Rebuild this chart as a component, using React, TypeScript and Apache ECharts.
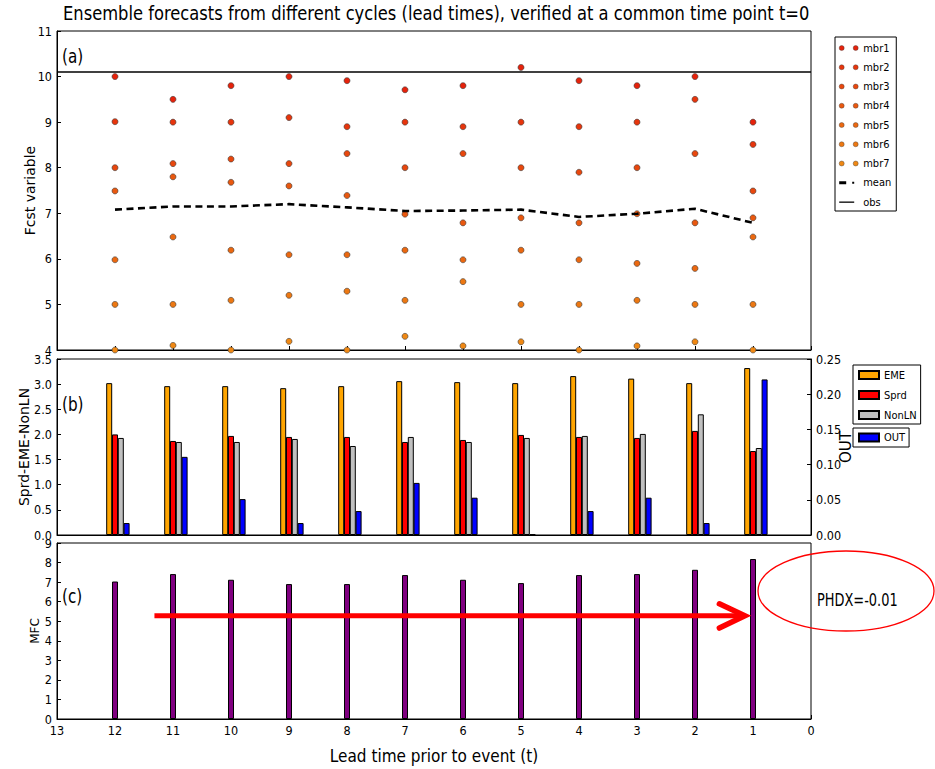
import React, { useEffect, useRef } from "react";
import * as echarts from "echarts";

// ---------- data ----------
const LEAD_TIMES = [12, 11, 10, 9, 8, 7, 6, 5, 4, 3, 2, 1];
const MEMBER_NAMES = ["mbr1", "mbr2", "mbr3", "mbr4", "mbr5", "mbr6", "mbr7"];
const MBR1 = [10.0, 9.5, 9.8, 10.0, 9.91, 9.71, 9.8, 10.2, 9.91, 9.8, 10.0, 9.0];
const MBR2 = [9.01, 9.0, 9.0, 9.1, 8.9, 9.0, 8.9, 9.0, 8.9, 9.0, 9.5, 8.51];
const MBR3 = [8.0, 8.09, 8.19, 8.09, 8.31, 8.0, 8.31, 8.0, 7.9, 8.0, 8.31, 7.49];
const MBR4 = [7.49, 7.8, 7.68, 7.6, 7.39, 6.98, 6.79, 6.9, 6.79, 6.99, 6.79, 6.9];
const MBR5 = [5.98, 6.48, 6.19, 6.09, 6.09, 6.19, 5.98, 6.19, 5.98, 5.9, 5.79, 6.48];
const MBR6 = [5.0, 5.0, 5.09, 5.2, 5.29, 5.09, 5.5, 5.0, 5.0, 5.09, 5.0, 5.0];
const MBR7 = [4.0, 4.1, 4.0, 4.19, 4.0, 4.3, 4.09, 4.18, 4.0, 4.09, 4.18, 4.0];
const MEMBERS = [MBR1, MBR2, MBR3, MBR4, MBR5, MBR6, MBR7];
const MEAN = [7.08, 7.15, 7.15, 7.2, 7.13, 7.05, 7.06, 7.08, 6.92, 6.99, 7.1, 6.79];
const OBS = 10.1;

const EME = [3.02, 2.96, 2.96, 2.92, 2.96, 3.06, 3.04, 3.02, 3.16, 3.11, 3.02, 3.32];
const SPRD = [2.0, 1.87, 1.97, 1.95, 1.95, 1.85, 1.89, 1.99, 1.95, 1.93, 2.07, 1.67];
const NONLN = [1.93, 1.85, 1.85, 1.91, 1.77, 1.95, 1.85, 1.93, 1.97, 2.01, 2.4, 1.73];
const OUT = [0.017, 0.111, 0.051, 0.017, 0.034, 0.074, 0.053, 0.001, 0.034, 0.053, 0.017, 0.221];
const MFC = [7.03, 7.41, 7.12, 6.9, 6.9, 7.36, 7.12, 6.95, 7.36, 7.41, 7.63, 8.18];

const X_MIN = 0;
const X_MAX = 13;
const ARROW_Y = 5.28;
const ARROW_FROM = 11.32;
const ARROW_TO = 1.14;
const ARROW_HEAD_X = 1.58;
const ARROW_HEAD_TOP = 5.89;
const ARROW_HEAD_BOTTOM = 4.65;
const PHDX_TEXT = "PHDX=-0.01";
const TITLE = "Ensemble forecasts from different cycles (lead times), verified at a common time point t=0";

// ---------- styles ----------
const COND = '"DejaVu Sans Condensed", "DejaVu Sans", sans-serif';
const SANS = '"DejaVu Sans", sans-serif';
const MEMBER_COLORS = ["#e6220b", "#e7350c", "#e8470d", "#e9580f", "#eb6810", "#ed7812", "#ef8814"];
const MEMBER_EDGE = "#3a3a3a";
// offsets in axis units (axis is inverted: positive = further left)
const BAR_OFFSET = { EME: 0.1, Sprd: 0, NonLN: -0.1, OUT: -0.2 };

const GRID_LEFT = 57;
const GRID_WIDTH = 754;

const TWO_DOTS =
  "path://M0,2.5a2.5,2.5 0 1,0 5,0a2.5,2.5 0 1,0 -5,0zM14,2.5a2.5,2.5 0 1,0 5,0a2.5,2.5 0 1,0 -5,0z";
const MEAN_ICON = "path://M0,0M19,5M0,1h7v3h-7zM13,1.5h2v2h-2z";
const OBS_ICON = "path://M0,0M19,5M0,2h15v1.3h-15z";

function xAxis(i: number, showLabel: boolean) {
  return {
    type: "value",
    gridIndex: i,
    min: X_MIN,
    max: X_MAX,
    interval: 1,
    inverse: true,
    axisLine: { onZero: false, lineStyle: { color: "#000", width: 1 } },
    axisTick: { inside: true, length: 4, lineStyle: { color: "#000" } },
    splitLine: { show: false },
    axisLabel: { show: showLabel, color: "#000", fontSize: 12.5, fontFamily: COND, margin: 5 },
    name: showLabel ? "Lead time prior to event (t)" : "",
    nameLocation: "middle",
    nameGap: 28,
    nameMoveOverlap: false,
    nameTextStyle: { fontSize: 17, fontFamily: COND, color: "#000" },
  };
}

function yAxisBase(extra: any) {
  return {
    type: "value",
    axisLine: { show: true, onZero: false, lineStyle: { color: "#000", width: 1 } },
    axisTick: { show: true, inside: true, length: 4, lineStyle: { color: "#000" } },
    splitLine: { show: false },
    nameLocation: "middle",
    nameRotate: 90,
    nameMoveOverlap: false,
    axisLabel: { color: "#000", fontSize: 12.5, fontFamily: COND, margin: 5 },
    ...extra,
  };
}

function buildOption() {
  const memberSeries = MEMBERS.map((vals, m) => ({
    name: MEMBER_NAMES[m],
    type: "scatter",
    xAxisIndex: 0,
    yAxisIndex: 0,
    symbol: "circle",
    symbolSize: 6,
    itemStyle: { color: MEMBER_COLORS[m], borderColor: MEMBER_EDGE, borderWidth: 0.6, opacity: 1 },
    data: LEAD_TIMES.map((t, i) => [t, vals[i]]),
    z: 3,
  }));

  const barCommon = {
    type: "bar",
    xAxisIndex: 1,
    barWidth: 6,
    barGap: "-100%",
    itemStyle: { borderColor: "#000", borderWidth: 1 },
  };

  return {
    animation: false,
    backgroundColor: "#fff",
    textStyle: { fontFamily: COND },
    grid: [
      { left: GRID_LEFT, width: GRID_WIDTH, top: 31, height: 319, show: true, borderColor: "#000", borderWidth: 1 },
      { left: GRID_LEFT, width: GRID_WIDTH, top: 359, height: 176, show: true, borderColor: "#000", borderWidth: 1 },
      { left: GRID_LEFT, width: GRID_WIDTH, top: 543, height: 176, show: true, borderColor: "#000", borderWidth: 1 },
    ],
    xAxis: [xAxis(0, false), xAxis(1, false), xAxis(2, true)],
    yAxis: [
      yAxisBase({
        gridIndex: 0,
        min: 4,
        max: 11,
        interval: 1,
        name: "Fcst variable",
        nameGap: 20,
        nameTextStyle: { fontSize: 14, fontFamily: SANS, color: "#000" },
      }),
      yAxisBase({
        gridIndex: 1,
        min: 0,
        max: 3.5,
        interval: 0.5,
        name: "Sprd-EME-NonLN",
        nameGap: 26,
        nameTextStyle: { fontSize: 14, fontFamily: SANS, color: "#000" },
        axisLabel: {
          color: "#000",
          fontSize: 12.5,
          fontFamily: COND,
          margin: 5,
          formatter: (v: number) => v.toFixed(1),
        },
      }),
      yAxisBase({
        gridIndex: 1,
        position: "right",
        min: 0,
        max: 0.25,
        interval: 0.05,
        name: "OUT",
        nameGap: 27,
        nameTextStyle: { fontSize: 15, fontFamily: SANS, color: "#000" },
        axisLabel: {
          color: "#000",
          fontSize: 12.5,
          fontFamily: COND,
          margin: 5,
          formatter: (v: number) => v.toFixed(2),
        },
      }),
      yAxisBase({
        gridIndex: 2,
        min: 0,
        max: 9,
        interval: 1,
        name: "MFC",
        nameGap: 16,
        nameTextStyle: { fontSize: 12, fontFamily: SANS, color: "#000" },
      }),
    ],
    legend: [
      {
        left: 835,
        top: 37,
        orient: "vertical",
        selectedMode: false,
        itemWidth: 19,
        itemHeight: 5,
        itemGap: 7.25,
        padding: [5, 5, 3, 4],
        borderColor: "#000",
        borderWidth: 1,
        borderRadius: 0,
        backgroundColor: "#fff",
        textStyle: { fontSize: 11, fontFamily: COND, color: "#000", lineHeight: 12 },
        data: [
          ...MEMBER_NAMES.map((n, m) => ({
            name: n,
            icon: TWO_DOTS,
            itemStyle: { color: MEMBER_COLORS[m], borderColor: MEMBER_EDGE, borderWidth: 0.4 },
          })),
          { name: "mean", icon: MEAN_ICON, itemStyle: { color: "#000", borderWidth: 0 } },
          { name: "obs", icon: OBS_ICON, itemStyle: { color: "#000", borderWidth: 0 } },
        ],
      },
      {
        left: 853,
        top: 365,
        orient: "vertical",
        selectedMode: false,
        itemWidth: 20,
        itemHeight: 8,
        itemGap: 8,
        padding: [4, 4, 3, 5],
        borderColor: "#000",
        borderWidth: 1,
        borderRadius: 0,
        backgroundColor: "#fff",
        textStyle: { fontSize: 11, fontFamily: COND, color: "#000", lineHeight: 12 },
        data: [
          { name: "EME", icon: "rect" },
          { name: "Sprd", icon: "rect" },
          { name: "NonLN", icon: "rect" },
        ],
      },
      {
        left: 853,
        top: 428,
        orient: "vertical",
        selectedMode: false,
        itemWidth: 20,
        itemHeight: 8,
        padding: [3.5, 4, 3.5, 5],
        borderColor: "#000",
        borderWidth: 1,
        borderRadius: 0,
        backgroundColor: "#fff",
        textStyle: { fontSize: 11, fontFamily: COND, color: "#000", lineHeight: 12 },
        data: [{ name: "OUT", icon: "rect" }],
      },
    ],
    series: [
      ...memberSeries,
      {
        name: "mean",
        type: "line",
        xAxisIndex: 0,
        yAxisIndex: 0,
        symbol: "none",
        lineStyle: { color: "#000", width: 2.6, type: [7, 4.5] },
        itemStyle: { color: "#000" },
        data: LEAD_TIMES.map((t, i) => [t, MEAN[i]]),
        z: 4,
      },
      {
        name: "obs",
        type: "line",
        xAxisIndex: 0,
        yAxisIndex: 0,
        symbol: "none",
        lineStyle: { color: "#000", width: 1.5 },
        itemStyle: { color: "#000" },
        data: [
          [X_MAX, OBS],
          [X_MIN, OBS],
        ],
        z: 4,
      },
      {
        ...barCommon,
        name: "EME",
        yAxisIndex: 1,
        itemStyle: { ...barCommon.itemStyle, color: "#ffa500" },
        data: LEAD_TIMES.map((t, i) => [t + BAR_OFFSET.EME, EME[i]]),
      },
      {
        ...barCommon,
        name: "Sprd",
        yAxisIndex: 1,
        itemStyle: { ...barCommon.itemStyle, color: "#ff0000" },
        data: LEAD_TIMES.map((t, i) => [t + BAR_OFFSET.Sprd, SPRD[i]]),
      },
      {
        ...barCommon,
        name: "NonLN",
        yAxisIndex: 1,
        itemStyle: { ...barCommon.itemStyle, color: "#c0c0c0" },
        data: LEAD_TIMES.map((t, i) => [t + BAR_OFFSET.NonLN, NONLN[i]]),
      },
      {
        ...barCommon,
        name: "OUT",
        yAxisIndex: 2,
        itemStyle: { ...barCommon.itemStyle, color: "#0000ff" },
        data: LEAD_TIMES.map((t, i) => [t + BAR_OFFSET.OUT, OUT[i]]),
      },
      {
        name: "MFC",
        type: "bar",
        xAxisIndex: 2,
        yAxisIndex: 3,
        barWidth: 6,
        itemStyle: { color: "#800080", borderColor: "#000", borderWidth: 1 },
        data: LEAD_TIMES.map((t, i) => [t, MFC[i]]),
      },
      {
        name: "arrow",
        type: "line",
        xAxisIndex: 2,
        yAxisIndex: 3,
        symbol: "none",
        silent: true,
        lineStyle: { color: "#ff0000", width: 5, cap: "butt" },
        data: [
          [ARROW_FROM, ARROW_Y],
          [ARROW_TO, ARROW_Y],
        ],
        z: 5,
      },
      {
        name: "arrowHead",
        type: "line",
        xAxisIndex: 2,
        yAxisIndex: 3,
        symbol: "none",
        silent: true,
        lineStyle: { color: "#ff0000", width: 5.5, cap: "round", join: "miter" },
        data: [
          [ARROW_HEAD_X, ARROW_HEAD_TOP],
          [ARROW_TO, ARROW_Y],
          [ARROW_HEAD_X, ARROW_HEAD_BOTTOM],
        ],
        z: 5,
      },
    ],
    graphic: [
      {
        type: "text",
        x: 63,
        y: 14,
        scaleX: 0.86,
        style: { text: TITLE, fontSize: 19, fontFamily: SANS, fill: "#000", align: "left", verticalAlign: "middle" },
      },
      {
        type: "text",
        x: 62,
        y: 56,
        scaleX: 0.8,
        style: { text: "(a)", fontSize: 19, fontFamily: SANS, fill: "#000", verticalAlign: "middle" },
      },
      {
        type: "text",
        x: 62,
        y: 404,
        scaleX: 0.8,
        style: { text: "(b)", fontSize: 19, fontFamily: SANS, fill: "#000", verticalAlign: "middle" },
      },
      {
        type: "text",
        x: 62,
        y: 596,
        scaleX: 0.8,
        style: { text: "(c)", fontSize: 19, fontFamily: SANS, fill: "#000", verticalAlign: "middle" },
      },
      {
        type: "ellipse",
        shape: { cx: 846, cy: 591, rx: 88, ry: 40 },
        style: { fill: "none", stroke: "#ff0000", lineWidth: 1.3 },
      },
      {
        type: "text",
        x: 817,
        y: 600,
        scaleX: 0.74,
        style: { text: PHDX_TEXT, fontSize: 17.5, fontFamily: SANS, fill: "#000", verticalAlign: "middle" },
      },
    ],
  };
}

export default function App() {
  const ref = useRef<HTMLDivElement>(null);
  useEffect(() => {
    if (!ref.current) return;
    const chart = echarts.init(ref.current, null, { renderer: "svg" });
    chart.setOption(buildOption() as any);
    return () => chart.dispose();
  }, []);
  return (
    <div
      ref={ref}
      style={{ position: "fixed", left: 0, top: 0, width: 935, height: 769, background: "#fff" }}
    />
  );
}
